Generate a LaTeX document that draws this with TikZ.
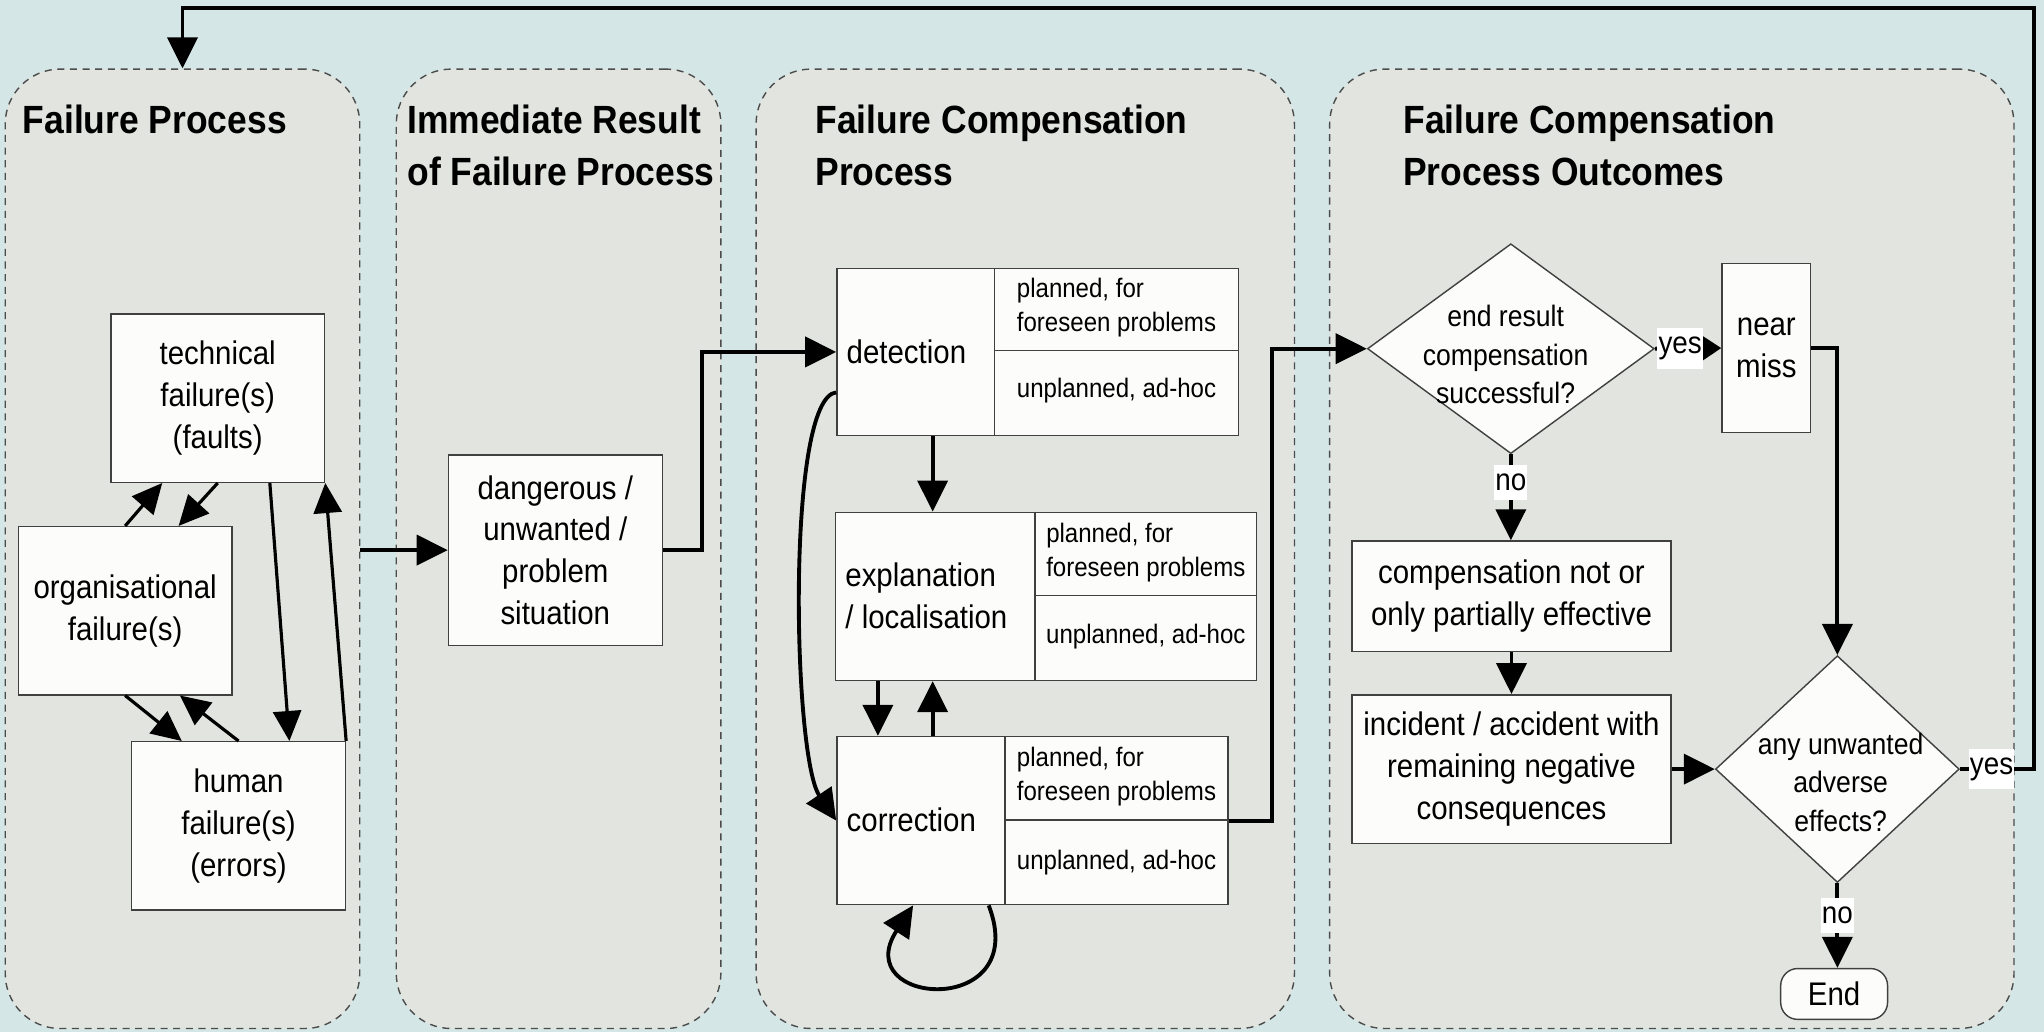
\documentclass[tikz,border=0pt]{standalone}
\usepackage{fontspec}
\setmainfont{Liberation Sans}[FakeStretch=0.9]
\usetikzlibrary{arrows.meta,positioning,shapes.geometric,calc}

\definecolor{bgcol}{HTML}{D4E6E6}
\definecolor{panelcol}{HTML}{E2E5DF}
\definecolor{boxcol}{HTML}{FCFCFA}

\newcommand\pxu{0.013036cm}
\newcommand\ttlfont{\fontsize{11.2}{14.6}\selectfont\bfseries}
\newcommand\boxfont{\fontsize{9.3}{11.9}\selectfont}
\newcommand\smfont{\fontsize{7.6}{9.6}\selectfont}
\newcommand\diafont{\fontsize{8.4}{10.9}\selectfont}
\newcommand\ynfont{\fontsize{8.8}{10}\selectfont}

\begin{document}
\begin{tikzpicture}[x=\pxu, y=-\pxu,
  panel/.style={draw=black!70, fill=panelcol, dash pattern=on 2pt off 1.6pt,
    line width=0.4pt, rounded corners=0.55cm},
  box/.style={draw=black!75, fill=boxcol, line width=0.4pt, inner sep=0pt,
    align=center, font=\boxfont},
  dia/.style={diamond, draw=black!75, fill=boxcol, line width=0.4pt, inner sep=0pt},
  ttl/.style={anchor=west, align=left, inner sep=0pt, font=\ttlfont},
  lab/.style={anchor=west, align=left, inner sep=0pt, font=\boxfont},
  sml/.style={align=left, inner sep=0pt, font=\smfont},
  dtxt/.style={align=center, inner sep=0pt, font=\diafont},
  yn/.style={fill=white, inner xsep=0.3pt, inner ysep=2.5pt, font=\ynfont},
  divider/.style={draw=black!75, line width=0.4pt},
  arr/.style={-{Triangle[length=3.1mm,width=3mm]}, line width=1.1pt},
  tarr/.style={-{Triangle[length=3mm,width=2.8mm]}, line width=0.9pt},
  sarr/.style={-{Triangle[length=1.9mm,width=2.4mm]}, line width=1.1pt},
]
  \useasboundingbox (0,0) rectangle (1568,792);
  \fill[bgcol] (0,0) rectangle (1568,792);

  % the four phases
  \node[panel, minimum width=272*\pxu, minimum height=736*\pxu] (p1) at (140,421) {};
  \node[panel, minimum width=249*\pxu, minimum height=736*\pxu] (p2) at (428.5,421) {};
  \node[panel, minimum width=413*\pxu, minimum height=736*\pxu] (p3) at (786.5,421) {};
  \node[panel, minimum width=525*\pxu, minimum height=736*\pxu] (p4) at (1282.5,421) {};

  \node[ttl] (t1) at (17,92) {Failure Process};
  \node[ttl] (t2) at (312,111.5) {Immediate Result\\of Failure Process};
  \node[ttl] (t3) at (625,111.5) {Failure Compensation\\Process};
  \node[ttl] (t4) at (1076,111.5) {Failure Compensation\\Process Outcomes};

  % failure process
  \node[box, minimum width=164*\pxu, minimum height=129*\pxu] (tech) at (167,305.5)
    {technical\\failure(s)\\(faults)};
  \node[box, minimum width=164*\pxu, minimum height=129*\pxu] (org) at (96,468.5)
    {organisational\\failure(s)};
  \node[box, minimum width=164*\pxu, minimum height=129*\pxu] (human) at (183,633.5)
    {human\\failure(s)\\(errors)};

  \draw[tarr] (org.north) -- ($(tech.south west)+(40,0)$);
  \draw[tarr] (tech.south) -- ($(org.north)+(41,0)$);
  \draw[tarr] ($(tech.south)+(40,0)$) -- ($(human.north)+(39,0)$);
  \draw[tarr] (human.north east) -- (tech.south east);
  \draw[tarr] (org.south) -- ($(human.north west)+(39,0)$);
  \draw[tarr] (human.north) -- ($(org.south)+(42,0)$);

  % immediate result
  \node[box, minimum width=164*\pxu, minimum height=146*\pxu] (danger) at (426,422)
    {dangerous /\\unwanted /\\problem\\situation};
  \draw[arr] (p1.east |- danger.west) -- (danger.west);

  % compensation process
  \node[box, minimum width=308*\pxu, minimum height=128*\pxu] (det) at (796,270) {};
  \draw[divider] (763,206) -- (763,334) (763,269) -- (950,269);
  \node[lab] (det-l) at (649,270) {detection};
  \node[sml] (det-p) at (856.5,236) {planned, for\\foreseen problems};
  \node[sml] (det-u) at (856.5,300) {unplanned, ad-hoc};

  \node[box, minimum width=323*\pxu, minimum height=129*\pxu] (expl) at (802.5,457.5) {};
  \draw[divider] (794,393) -- (794,522) (794,457) -- (964,457);
  \node[lab] (expl-l) at (648,457) {explanation\\/ localisation};
  \node[sml] (expl-p) at (879,424) {planned, for\\foreseen problems};
  \node[sml] (expl-u) at (879,488.5) {unplanned, ad-hoc};

  \node[box, minimum width=300*\pxu, minimum height=129*\pxu] (corr) at (792,629.5) {};
  \draw[divider] (771,565) -- (771,694) (771,629) -- (942,629);
  \node[lab] (corr-l) at (649,629) {correction};
  \node[sml] (corr-p) at (856.5,595.5) {planned, for\\foreseen problems};
  \node[sml] (corr-u) at (856.5,662) {unplanned, ad-hoc};

  \draw[arr] (danger.east) -- ++(30,0) |- (det.west);
  \draw[arr] ($(det.south west)+(74,0)$) coordinate (a1) -- (a1 |- expl.north);
  \draw[arr] ($(expl.south west)+(33,0)$) coordinate (a2) -- (a2 |- corr.north);
  \draw[arr] ($(corr.north west)+(74,0)$) coordinate (a3) -- (a3 |- expl.south);
  \draw[arr] ($(det.west)+(0,31)$) .. controls (603,305) and (608,580) .. (corr.west);
  \draw[arr] ($(corr.south west)+(117,0)$) .. controls (792,782) and (650,772)
    .. ($(corr.south west)+(59,0)$);

  % outcomes
  \node[dia, minimum width=220*\pxu, minimum height=161*\pxu] (d1) at (1159,267.5) {};
  \node[dtxt] (d1-t) at (1155,272) {end result\\compensation\\successful?};
  \node[box, minimum width=68*\pxu, minimum height=130*\pxu] (near) at (1355,267) {near\\miss};
  \node[box, minimum width=245*\pxu, minimum height=85*\pxu] (comp) at (1159.5,457.5)
    {compensation not or\\only partially effective};
  \node[box, minimum width=245*\pxu, minimum height=114*\pxu] (inc) at (1159.5,590)
    {incident / accident with\\remaining negative\\consequences};
  \node[dia, minimum width=187*\pxu, minimum height=174*\pxu] (d2) at (1409.5,590) {};
  \node[dtxt] (d2-t) at (1412,600) {any unwanted\\adverse\\effects?};
  \node[box, rounded corners=0.17cm, minimum width=82*\pxu, minimum height=39*\pxu]
    (end) at (1407,762.5) {End};

  \draw[arr] (corr.east) -- ++(33,0) |- (d1.west);
  \draw[sarr] (d1.east) -- node[yn, pos=0.38] (y1) {yes} (near.west);
  \draw[arr] (d1.south) -- node[yn, pos=0.33] (n1) {no} (d1.south |- comp.north);
  \draw[arr] (comp.south) -- (comp.south |- inc.north);
  \draw[arr] (inc.east) -- (d2.west);
  \draw[arr] (near.east) -| (d2.north);
  \draw[arr] (d2.south) -- node[yn, pos=0.38] (n2) {no} (d2.south |- end.north);

  % back to the start
  \coordinate (top) at (1560,6);
  \draw[arr] (d2.east) -- node[yn, pos=0.43] (y2) {yes} (d2.east -| top) -- (top) -| (p1.north);
\end{tikzpicture}
\end{document}
